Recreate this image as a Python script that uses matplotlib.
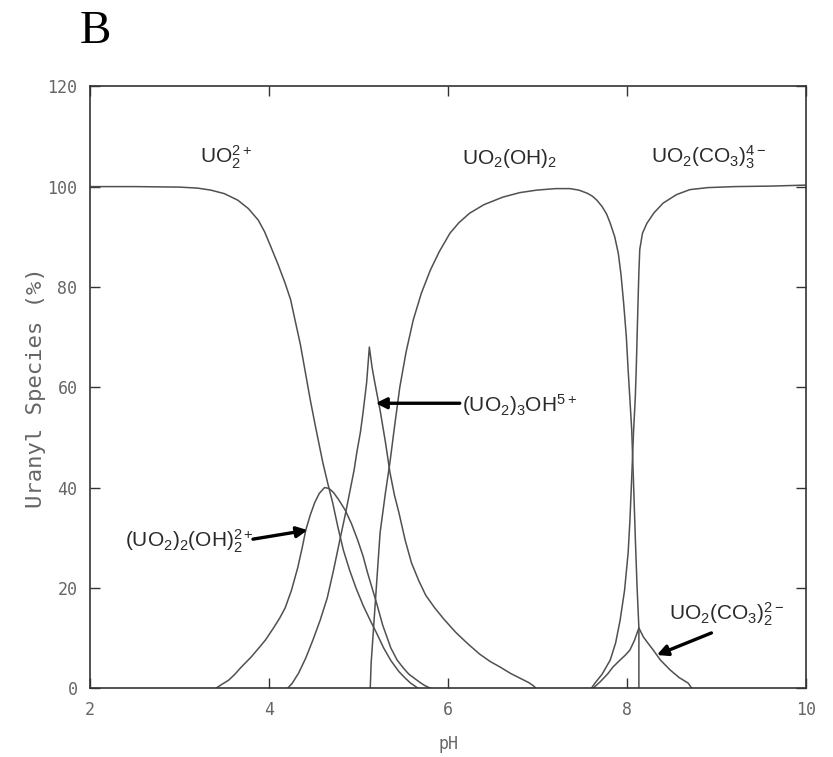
import matplotlib
matplotlib.use('Agg')
import matplotlib.pyplot as plt

plt.rcParams['font.family'] = ['Liberation Sans', 'DejaVu Sans']
plt.rcParams['mathtext.fontset'] = 'custom'
plt.rcParams['mathtext.rm'] = 'Liberation Sans'
plt.rcParams['mathtext.it'] = 'Liberation Sans:italic'
plt.rcParams['mathtext.bf'] = 'Liberation Sans:bold'
plt.rcParams['mathtext.default'] = 'rm'

# species curves (pH, % of uranyl)
uo2_ph = [2.0, 2.5, 3.0, 3.2, 3.35, 3.5, 3.65, 3.77, 3.88, 3.95, 4.02, 4.10, 4.18,
          4.24, 4.29, 4.35, 4.40, 4.46, 4.52, 4.60, 4.66, 4.71, 4.77, 4.83, 4.90,
          4.97, 5.05, 5.13, 5.20, 5.28, 5.36, 5.45, 5.52, 5.58, 5.63, 5.66]
uo2_val = [100, 100, 99.9, 99.7, 99.3, 98.6, 97.3, 95.6, 93.3, 91, 88, 84.5, 80.7,
           77.5, 73.4, 68.5, 63.5, 57.5, 52, 45, 40.5, 37, 32, 27.5, 23.5,
           20, 16.5, 13.5, 11, 8, 5.5, 3.3, 2, 1, 0.4, 0]

dimer_ph = [3.41, 3.46, 3.55, 3.62, 3.69, 3.80, 3.90, 3.96, 4.05, 4.12, 4.18, 4.25,
            4.32, 4.37, 4.41, 4.46, 4.51, 4.56, 4.62, 4.67, 4.72, 4.78, 4.85, 4.92,
            4.99, 5.05, 5.10, 5.15, 5.20, 5.27, 5.36, 5.43, 5.50, 5.56, 5.62, 5.68,
            5.74, 5.80]
dimer_val = [0, 0.6, 1.6, 2.8, 4.2, 6.2, 8.3, 9.6, 12, 14, 16, 19.5,
             24, 28, 31.5, 34.5, 37, 38.8, 40, 39.8, 39, 37.5, 35.5, 32.8,
             29.5, 26.3, 23, 20, 17, 12.5, 8, 5.6, 4, 2.8, 2, 1.2,
             0.5, 0]

trimer_ph = [4.21, 4.26, 4.33, 4.41, 4.49, 4.57, 4.65, 4.72, 4.79, 4.85, 4.90, 4.95,
             4.98, 5.02, 5.05, 5.09, 5.12, 5.15, 5.18, 5.24, 5.30, 5.35, 5.40, 5.45,
             5.52, 5.59, 5.67, 5.75, 5.85, 5.95, 6.08, 6.21, 6.35, 6.47, 6.58, 6.70,
             6.80, 6.90, 6.95, 6.98]
trimer_val = [0, 1, 3, 6, 9.6, 13.5, 18, 23.5, 29.5, 34.5, 39, 43.5,
              47, 51, 55, 61, 68, 64, 61, 55.4, 49, 43, 38.5, 35,
              29.5, 25, 21.5, 18.5, 16, 13.8, 11.2, 9, 6.8, 5.3, 4.2, 2.9,
              2, 1.1, 0.5, 0]

hydrox_ph = [5.13, 5.14, 5.19, 5.24, 5.30, 5.35, 5.40, 5.46, 5.53, 5.61, 5.70, 5.80,
             5.90, 6.02, 6.12, 6.24, 6.40, 6.61, 6.80, 6.99, 7.20, 7.36, 7.46, 7.55,
             7.61, 7.66, 7.72, 7.77, 7.81, 7.86, 7.90, 7.93, 7.96, 7.99, 8.01, 8.03,
             8.05, 8.07, 8.09, 8.11, 8.13, 8.13]
hydrox_val = [0, 5, 18, 31, 39, 45, 52, 60, 67, 73.4, 78.7, 83.3,
              87, 90.7, 92.8, 94.7, 96.4, 97.9, 98.8, 99.3, 99.6, 99.6, 99.3, 98.7,
              98.1, 97.3, 96, 94.5, 92.7, 90, 86.7, 82.5, 76.7, 70, 63.4, 57.5,
              51.4, 41, 30, 20, 12, 0]

tricarb_ph = [7.60, 7.64, 7.72, 7.81, 7.87, 7.92, 7.97, 8.01, 8.03, 8.05, 8.07, 8.09,
              8.10, 8.12, 8.13, 8.14, 8.17, 8.22, 8.30, 8.40, 8.55, 8.70, 8.90, 9.20,
              9.60, 10.0]
tricarb_val = [0, 1, 2.8, 5.6, 9, 13.5, 19.5, 27, 33.5, 42, 51, 58,
               63.4, 76.7, 83, 87.5, 90.7, 92.7, 94.8, 96.7, 98.4, 99.4, 99.8, 100,
               100.1, 100.3]

dicarb_ph = [7.62, 7.70, 7.78, 7.84, 7.92, 7.98, 8.03, 8.08, 8.13, 8.18, 8.23, 8.29,
             8.37, 8.48, 8.58, 8.68, 8.72]
dicarb_val = [0, 1.3, 2.8, 4.2, 5.6, 6.6, 7.6, 9.5, 12, 10.2, 9, 7.6,
              5.6, 3.6, 2.1, 1, 0]

xticks = [2, 4, 6, 8, 10]
yticks = [0, 20, 40, 60, 80, 100, 120]

fig = plt.figure(figsize=(8.33, 7.57), dpi=100)
ax = fig.add_axes([0.108, 0.091, 0.86, 0.795])

line_c = '#505050'
for xs, ys in [(uo2_ph, uo2_val), (dimer_ph, dimer_val), (trimer_ph, trimer_val),
               (hydrox_ph, hydrox_val), (tricarb_ph, tricarb_val), (dicarb_ph, dicarb_val)]:
    ax.plot(xs, ys, color=line_c, lw=1.1)

ax.set_xlim(2, 10)
ax.set_ylim(0, 120)
ax.set_xticks(xticks)
ax.set_yticks(yticks)
ax.tick_params(direction='in', length=7, width=1, colors='#333333',
               top=True, right=True, labelcolor='#666666')
ax.tick_params(axis='x', pad=9)
ax.tick_params(axis='y', pad=9)
for lab in ax.get_xticklabels() + ax.get_yticklabels():
    lab.set_fontfamily('DejaVu Sans Mono')
    lab.set_fontsize(12)
for sp in ax.spines.values():
    sp.set_color('#333333')
    sp.set_linewidth(1.2)

ax.set_xlabel('pH', family='DejaVu Sans Mono', fontsize=12, color='#666666', labelpad=12)
ax.set_ylabel('Uranyl Species (%)', family='DejaVu Sans Mono', fontsize=16,
              color='#666666')
ax.yaxis.set_label_coords(-0.062, 0.5)

# species names
txt_c = '#2a2a2a'
fs = 15
ax.text(3.23, 104.6, r'UO$_2^{2+}$', fontsize=fs, color=txt_c, va='baseline')
ax.text(6.16, 104.6, r'UO$_2$(OH)$_2$', fontsize=fs, color=txt_c, va='baseline')
ax.text(8.27, 104.6, r'UO$_2$(CO$_3$)$_3^{4-}$', fontsize=fs, color=txt_c, va='baseline')

arrow = dict(arrowstyle='-|>', color='black', lw=2.4, mutation_scale=16,
             shrinkA=0, shrinkB=0)
ax.annotate('', xy=(5.19, 56.8), xytext=(6.13, 56.8), arrowprops=arrow)
ax.text(6.15, 55.0, r'(UO$_2$)$_3$OH$^{5+}$', fontsize=fs, color=txt_c, va='baseline')

ax.annotate('', xy=(4.43, 31.5), xytext=(3.82, 29.7), arrowprops=arrow)
ax.text(2.39, 28.1, r'(UO$_2$)$_2$(OH)$_2^{2+}$', fontsize=fs, color=txt_c, va='baseline')

ax.annotate('', xy=(8.33, 6.6), xytext=(8.94, 11), arrowprops=arrow)
ax.text(8.47, 13.6, r'UO$_2$(CO$_3$)$_2^{2-}$', fontsize=fs, color=txt_c, va='baseline')

fig.text(0.096, 0.958, 'B', family='Liberation Serif', fontsize=34, color='black',
         va='center', ha='left')

fig.savefig('out.png', dpi=100)
